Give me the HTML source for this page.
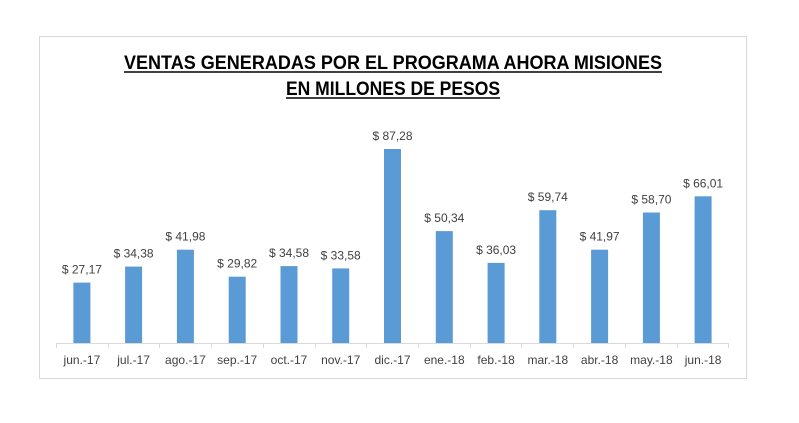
<!DOCTYPE html><html><head><meta charset="utf-8"><style>body{margin:0;background:#fff}</style></head><body>
<svg width="799" height="418" xmlns="http://www.w3.org/2000/svg" font-family="Liberation Sans, sans-serif">
<rect x="0" y="0" width="799" height="418" fill="#fff"/>
<rect x="39.5" y="36.5" width="707" height="342" fill="#fff" stroke="#d9d9d9"/>
<g font-weight="bold" font-size="19" fill="#000">
<text x="124" y="69" textLength="538" lengthAdjust="spacingAndGlyphs">VENTAS GENERADAS POR EL PROGRAMA AHORA MISIONES</text>
<text x="286" y="95" textLength="214" lengthAdjust="spacingAndGlyphs">EN MILLONES DE PESOS</text>
</g>
<line x1="124" y1="72" x2="662" y2="72" stroke="#000" stroke-width="1.5"/>
<line x1="286" y1="98" x2="500" y2="98" stroke="#000" stroke-width="1.5"/>
<g stroke="#d9d9d9">
<line x1="56" y1="343.5" x2="729" y2="343.5"/>
<line x1="56.5" y1="343" x2="56.5" y2="348"/><line x1="108.5" y1="343" x2="108.5" y2="348"/><line x1="159.5" y1="343" x2="159.5" y2="348"/><line x1="211.5" y1="343" x2="211.5" y2="348"/><line x1="263.5" y1="343" x2="263.5" y2="348"/><line x1="315.5" y1="343" x2="315.5" y2="348"/><line x1="366.5" y1="343" x2="366.5" y2="348"/><line x1="418.5" y1="343" x2="418.5" y2="348"/><line x1="470.5" y1="343" x2="470.5" y2="348"/><line x1="521.5" y1="343" x2="521.5" y2="348"/><line x1="573.5" y1="343" x2="573.5" y2="348"/><line x1="625.5" y1="343" x2="625.5" y2="348"/><line x1="677.5" y1="343" x2="677.5" y2="348"/><line x1="728.5" y1="343" x2="728.5" y2="348"/>
</g>
<g fill="#5b9bd5">
<rect x="73.4" y="282.6" width="17" height="60.4"/>
<rect x="125.1" y="266.6" width="17" height="76.4"/>
<rect x="176.9" y="249.7" width="17" height="93.3"/>
<rect x="228.7" y="276.7" width="17" height="66.3"/>
<rect x="280.5" y="266.1" width="17" height="76.9"/>
<rect x="332.2" y="268.4" width="17" height="74.6"/>
<rect x="384" y="149" width="17" height="194"/>
<rect x="435.8" y="231.1" width="17" height="111.9"/>
<rect x="487.6" y="262.9" width="17" height="80.1"/>
<rect x="539.3" y="210.2" width="17" height="132.8"/>
<rect x="591.1" y="249.7" width="17" height="93.3"/>
<rect x="642.9" y="212.5" width="17" height="130.5"/>
<rect x="694.6" y="196.3" width="17" height="146.7"/>
</g>
<g font-size="12" text-anchor="middle" fill="#404040">
<text x="81.9" y="273.6">$ 27,17</text>
<text x="133.6" y="257.6">$ 34,38</text>
<text x="185.4" y="240.7">$ 41,98</text>
<text x="237.2" y="267.7">$ 29,82</text>
<text x="289" y="257.1">$ 34,58</text>
<text x="340.7" y="259.4">$ 33,58</text>
<text x="392.5" y="140">$ 87,28</text>
<text x="444.3" y="222.1">$ 50,34</text>
<text x="496.1" y="253.9">$ 36,03</text>
<text x="547.8" y="201.2">$ 59,74</text>
<text x="599.6" y="240.7">$ 41,97</text>
<text x="651.4" y="203.5">$ 58,70</text>
<text x="703.1" y="187.3">$ 66,01</text>
<text x="81.9" y="364">jun.-17</text>
<text x="133.6" y="364">jul.-17</text>
<text x="185.4" y="364">ago.-17</text>
<text x="237.2" y="364">sep.-17</text>
<text x="289" y="364">oct.-17</text>
<text x="340.7" y="364">nov.-17</text>
<text x="392.5" y="364">dic.-17</text>
<text x="444.3" y="364">ene.-18</text>
<text x="496.1" y="364">feb.-18</text>
<text x="547.8" y="364">mar.-18</text>
<text x="599.6" y="364">abr.-18</text>
<text x="651.4" y="364">may.-18</text>
<text x="703.1" y="364">jun.-18</text>
</g>
</svg></body></html>
